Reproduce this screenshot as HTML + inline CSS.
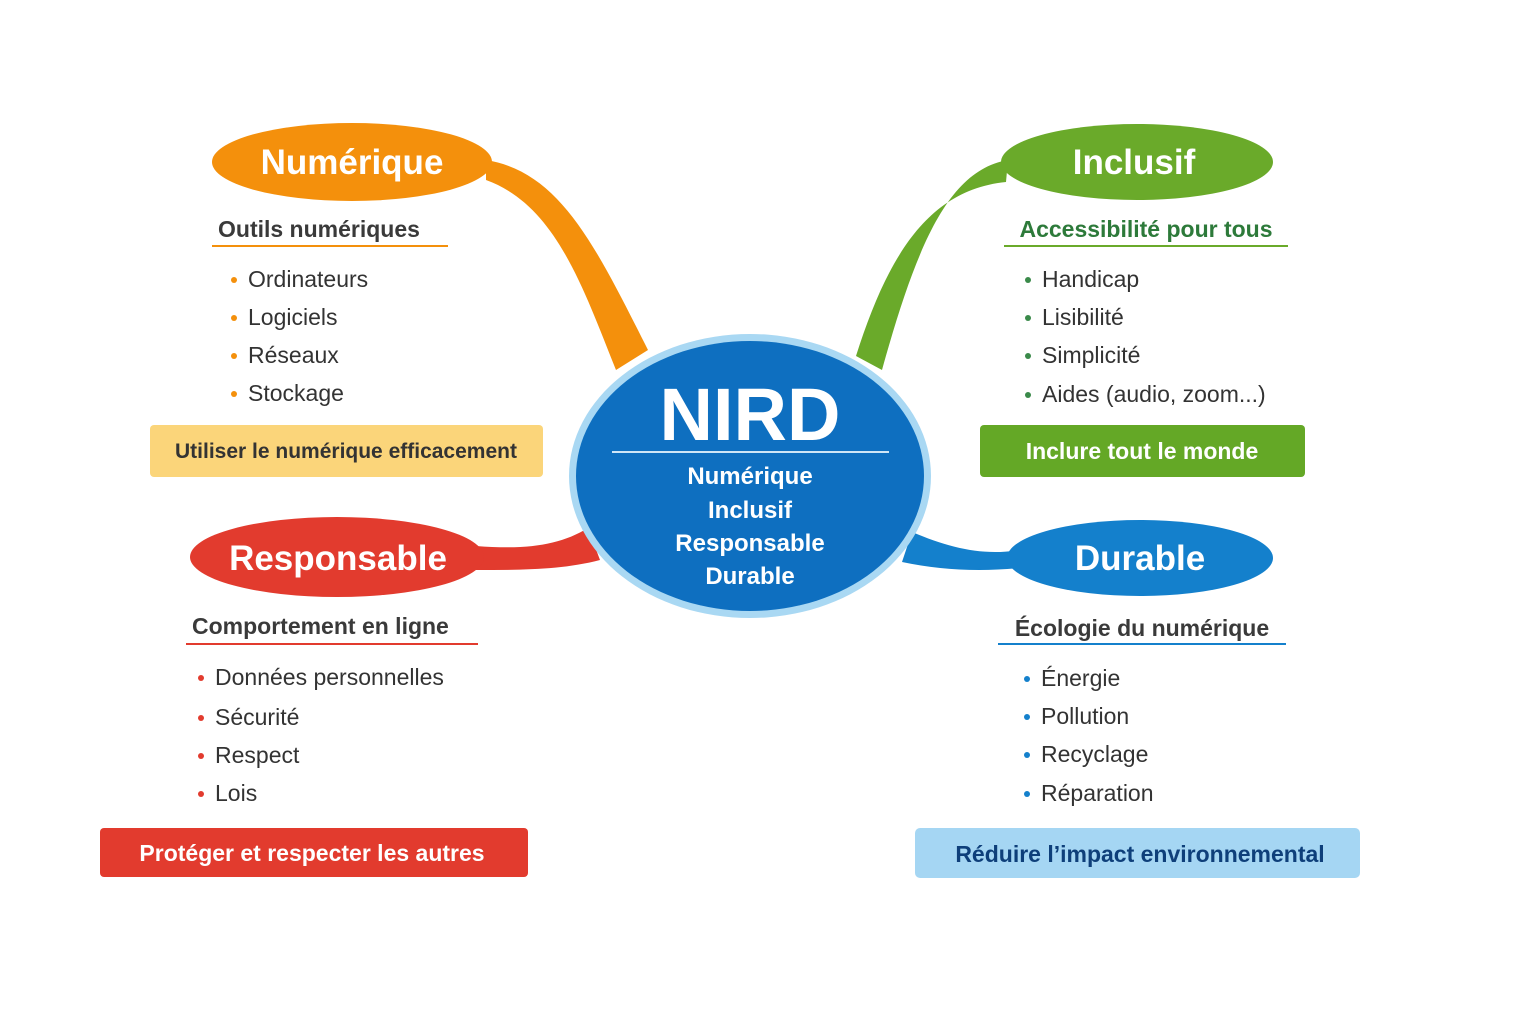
<!DOCTYPE html>
<html><head><meta charset="utf-8"><style>
html,body{margin:0;padding:0;background:#fff}
svg{display:block}
text{font-family:"Liberation Sans","DejaVu Sans",sans-serif}
</style></head><body>
<svg width="1536" height="1024" viewBox="0 0 1536 1024" xmlns="http://www.w3.org/2000/svg">
<rect width="1536" height="1024" fill="#fff"/>
<!-- connectors -->
<path d="M486,160 C560,172 595,245 648,350 L616,370 C582,285 555,205 486,180 Z" fill="#f4900c"/>
<path d="M1008,160 C950,170 918,240 882,370 L856,356 C886,262 925,190 1006,182 Z" fill="#6aaa2a"/>
<path d="M476,546 C528,550 560,545 588,528 L600,560 C562,570 520,570 476,570 Z" fill="#e23b2e"/>
<path d="M912,532 C950,548 982,556 1020,550 L1020,568 C978,572 940,570 902,562 Z" fill="#1480cc"/>
<!-- center -->
<ellipse cx="750" cy="476" rx="181" ry="142" fill="#a9d8f3"/>
<ellipse cx="750" cy="476" rx="174" ry="135" fill="#0e6fc0"/>
<text x="750" y="440" text-anchor="middle" font-size="74" font-weight="bold" fill="#fff">NIRD</text>
<line x1="612" y1="452" x2="889" y2="452" stroke="#cfe6f7" stroke-width="2"/>
<g font-size="24" font-weight="bold" fill="#fff" text-anchor="middle">
<text x="750" y="484">Numérique</text>
<text x="750" y="518">Inclusif</text>
<text x="750" y="551">Responsable</text>
<text x="750" y="584">Durable</text>
</g>
<!-- title ellipses -->
<ellipse cx="352" cy="162" rx="140" ry="39" fill="#f4900c"/>
<text x="352" y="174" text-anchor="middle" font-size="35" font-weight="bold" fill="#fff">Numérique</text>
<ellipse cx="1137" cy="162" rx="136" ry="38" fill="#6aaa2a"/>
<text x="1134" y="174" text-anchor="middle" font-size="35" font-weight="bold" fill="#fff">Inclusif</text>
<ellipse cx="337" cy="557" rx="147" ry="40" fill="#e23b2e"/>
<text x="338" y="570" text-anchor="middle" font-size="35" font-weight="bold" fill="#fff">Responsable</text>
<ellipse cx="1140" cy="558" rx="133" ry="38" fill="#1480cc"/>
<text x="1140" y="570" text-anchor="middle" font-size="35" font-weight="bold" fill="#fff">Durable</text>
<!-- Numérique section -->
<text x="218" y="237" font-size="23" font-weight="bold" fill="#3a3a3a">Outils numériques</text>
<line x1="212" y1="246" x2="448" y2="246" stroke="#f4900c" stroke-width="2"/>
<g font-size="23" fill="#333">
<text x="248" y="287">Ordinateurs</text><text x="248" y="325">Logiciels</text>
<text x="248" y="363">Réseaux</text><text x="248" y="401">Stockage</text>
</g>
<g fill="#f4900c"><circle cx="234" cy="280" r="3"/><circle cx="234" cy="318" r="3"/><circle cx="234" cy="356" r="3"/><circle cx="234" cy="394" r="3"/></g>
<rect x="150" y="425" width="393" height="52" rx="4" fill="#fbd57a"/>
<text x="346" y="458" text-anchor="middle" font-size="21" font-weight="bold" fill="#333">Utiliser le numérique efficacement</text>
<!-- Inclusif section -->
<text x="1146" y="237" text-anchor="middle" font-size="23" font-weight="bold" fill="#2d7a3a">Accessibilité pour tous</text>
<line x1="1004" y1="246" x2="1288" y2="246" stroke="#6aaa2a" stroke-width="2"/>
<g font-size="23" fill="#333">
<text x="1042" y="287">Handicap</text><text x="1042" y="325">Lisibilité</text>
<text x="1042" y="363">Simplicité</text><text x="1042" y="402">Aides (audio, zoom...)</text>
</g>
<g fill="#3a8a4a"><circle cx="1028" cy="280" r="3"/><circle cx="1028" cy="318" r="3"/><circle cx="1028" cy="356" r="3"/><circle cx="1028" cy="395" r="3"/></g>
<rect x="980" y="425" width="325" height="52" rx="4" fill="#64a826"/>
<text x="1142" y="459" text-anchor="middle" font-size="23" font-weight="bold" fill="#fff">Inclure tout le monde</text>
<!-- Responsable section -->
<text x="192" y="634" font-size="23" font-weight="bold" fill="#3a3a3a">Comportement en ligne</text>
<line x1="186" y1="644" x2="478" y2="644" stroke="#e23b2e" stroke-width="2"/>
<g font-size="23" fill="#333">
<text x="215" y="685">Données personnelles</text><text x="215" y="725">Sécurité</text>
<text x="215" y="763">Respect</text><text x="215" y="801">Lois</text>
</g>
<g fill="#e23b2e"><circle cx="201" cy="678" r="3"/><circle cx="201" cy="718" r="3"/><circle cx="201" cy="756" r="3"/><circle cx="201" cy="794" r="3"/></g>
<rect x="100" y="828" width="428" height="49" rx="4" fill="#e23b2e"/>
<text x="312" y="861" text-anchor="middle" font-size="23" font-weight="bold" fill="#fff">Protéger et respecter les autres</text>
<!-- Durable section -->
<text x="1142" y="636" text-anchor="middle" font-size="23" font-weight="bold" fill="#3a3a3a">Écologie du numérique</text>
<line x1="998" y1="644" x2="1286" y2="644" stroke="#1480cc" stroke-width="2"/>
<g font-size="23" fill="#333">
<text x="1041" y="686">Énergie</text><text x="1041" y="724">Pollution</text>
<text x="1041" y="762">Recyclage</text><text x="1041" y="801">Réparation</text>
</g>
<g fill="#1480cc"><circle cx="1027" cy="679" r="3"/><circle cx="1027" cy="717" r="3"/><circle cx="1027" cy="755" r="3"/><circle cx="1027" cy="794" r="3"/></g>
<rect x="915" y="828" width="445" height="50" rx="5" fill="#a5d6f3"/>
<text x="1140" y="862" text-anchor="middle" font-size="23" font-weight="bold" fill="#0e3f7a">Réduire l’impact environnemental</text>
</svg>
</body></html>
